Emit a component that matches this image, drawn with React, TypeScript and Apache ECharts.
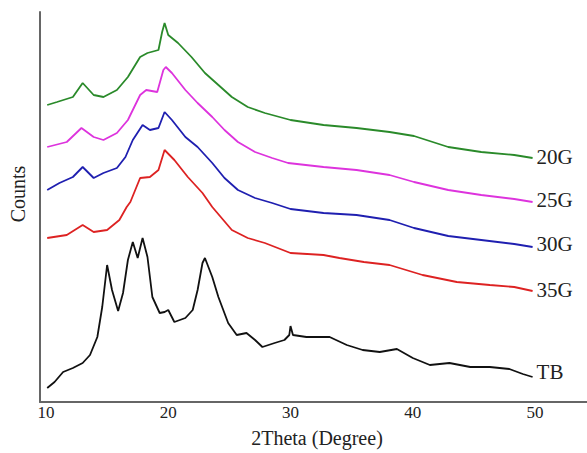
import React, { useEffect, useRef } from "react";
import * as echarts from "echarts";

// 2Theta positions (degrees) and counts (arbitrary units, offset stack)
const g20Theta = [10.1, 10.9, 12.2, 13.0, 13.9, 14.7, 15.8, 16.7, 17.7, 18.3, 19.2, 19.5, 19.7, 20.0, 20.8, 21.9, 23.0, 24.1, 25.2, 26.5, 27.9, 30.0, 32.7, 35.4, 38.1, 40.1, 42.9, 45.6, 48.3, 49.8];
const g20Counts = [297, 300, 305, 319, 307, 305, 312, 325, 345, 349, 352, 370, 379, 367, 359, 345, 329, 317, 305, 295, 289, 282, 277, 274, 270, 266, 255, 250, 247, 244];

const g25Theta = [10.1, 11.7, 12.9, 13.9, 14.7, 15.8, 16.7, 17.7, 18.2, 19.1, 19.6, 19.8, 20.3, 21.4, 22.4, 23.6, 24.6, 25.7, 27.1, 28.5, 29.8, 32.7, 35.4, 38.1, 40.1, 42.9, 45.6, 48.3, 49.8];
const g25Counts = [255, 260, 274, 265, 262, 269, 282, 307, 312, 310, 332, 335, 329, 312, 299, 285, 272, 260, 250, 244, 239, 235, 232, 227, 220, 212, 207, 203, 200];

const g30Theta = [10.1, 11.1, 12.2, 13.0, 13.9, 14.7, 15.8, 16.5, 17.1, 17.9, 18.5, 19.2, 19.7, 20.3, 21.4, 22.4, 23.6, 24.6, 25.7, 27.1, 28.5, 30.0, 32.7, 35.4, 38.1, 40.1, 42.9, 45.6, 48.3, 49.8];
const g30Counts = [212, 219, 225, 235, 224, 229, 234, 245, 262, 277, 272, 274, 290, 282, 265, 255, 239, 224, 212, 204, 199, 193, 189, 187, 182, 174, 166, 162, 158, 155];

const g35Theta = [10.1, 11.7, 13.0, 13.9, 15.0, 16.0, 16.6, 16.9, 17.7, 18.5, 19.2, 19.7, 20.5, 21.6, 22.8, 23.6, 25.2, 26.5, 27.9, 30.0, 32.7, 34.0, 36.0, 38.1, 40.8, 43.6, 46.3, 48.3, 49.8];
const g35Counts = [164, 167, 177, 170, 172, 182, 195, 200, 224, 225, 232, 252, 242, 225, 209, 195, 172, 164, 159, 149, 147, 144, 140, 137, 127, 120, 117, 115, 111];

const tbTheta = [10.1, 10.7, 11.4, 12.2, 13.0, 13.6, 14.2, 14.6, 15.0, 15.4, 15.9, 16.3, 16.7, 17.1, 17.5, 17.9, 18.3, 18.7, 19.3, 19.7, 20.0, 20.5, 21.4, 22.0, 22.4, 22.8, 23.0, 23.6, 24.1, 24.9, 25.6, 26.4, 27.1, 27.7, 28.7, 29.5, 29.9, 30.0, 30.2, 31.3, 33.2, 34.6, 35.9, 37.3, 38.7, 40.0, 41.4, 43.0, 44.7, 46.3, 47.9, 49.0, 49.8];
const tbCounts = [14, 20, 30, 34, 39, 47, 65, 95, 137, 112, 91, 109, 142, 160, 144, 164, 145, 105, 89, 90, 92, 80, 84, 92, 112, 139, 144, 125, 105, 79, 67, 69, 62, 55, 59, 62, 67, 76, 67, 65, 65, 57, 52, 50, 53, 44, 37, 39, 35, 35, 33, 28, 25];

const seriesNames = ["20G", "25G", "30G", "35G", "TB"];
const xTickLabels = [10, 20, 30, 40, 50];

const FONT = "'Liberation Serif', 'Times New Roman', serif";

function pairs(xs: number[], ys: number[]) {
  return xs.map((x, i) => [x, ys[i]]);
}

export default function App() {
  const ref = useRef<HTMLDivElement>(null);
  useEffect(() => {
    if (!ref.current) return;
    const chart = echarts.init(ref.current, null, { renderer: "svg" });
    const thetas = [g20Theta, g25Theta, g30Theta, g35Theta, tbTheta];
    const counts = [g20Counts, g25Counts, g30Counts, g35Counts, tbCounts];
    const colors = ["#2a8a2a", "#dd33dd", "#1f1fb0", "#dd2222", "#111111"];
    const offsets = [[0, -1], [0, -2], [0, -3], [0, -1], [0, -5]];
    chart.setOption({
      animation: false,
      grid: { left: 40, right: 0, top: 12, bottom: 51, containLabel: false },
      xAxis: {
        type: "value",
        min: 9.51,
        max: 54.25,
        axisLine: { show: true, lineStyle: { color: "#666", width: 2 } },
        axisTick: { show: false },
        splitLine: { show: false },
        axisLabel: {
          customValues: xTickLabels,
          color: "#222",
          fontSize: 17,
          fontFamily: FONT,
          margin: 2,
        },
      },
      yAxis: {
        type: "value",
        min: 0,
        max: 390,
        axisLine: { show: true, lineStyle: { color: "#666", width: 2 } },
        axisTick: { show: false },
        axisLabel: { show: false },
        splitLine: { show: false },
      },
      series: seriesNames.map((name, i) => ({
        name,
        type: "line",
        data: pairs(thetas[i], counts[i]),
        showSymbol: false,
        lineStyle: { color: colors[i], width: 1.8 },
        itemStyle: { color: colors[i] },
        endLabel: {
          show: true,
          formatter: "{a}",
          color: "#222",
          fontSize: 21,
          fontFamily: FONT,
          distance: 4,
          offset: offsets[i],
        },
      })),
      graphic: [
        {
          type: "text",
          x: 317,
          y: 438,
          style: {
            text: "2Theta (Degree)",
            fill: "#222",
            fontSize: 20,
            fontFamily: FONT,
            align: "center",
            verticalAlign: "middle",
          },
        },
        {
          type: "text",
          x: 18,
          y: 194,
          rotation: Math.PI / 2,
          style: {
            text: "Counts",
            fill: "#222",
            fontSize: 20,
            fontFamily: FONT,
            align: "center",
            verticalAlign: "middle",
          },
        },
      ],
    });
    return () => chart.dispose();
  }, []);
  return <div ref={ref} style={{ width: 587, height: 453, position: "absolute", left: 0, top: 0 }} />;
}
